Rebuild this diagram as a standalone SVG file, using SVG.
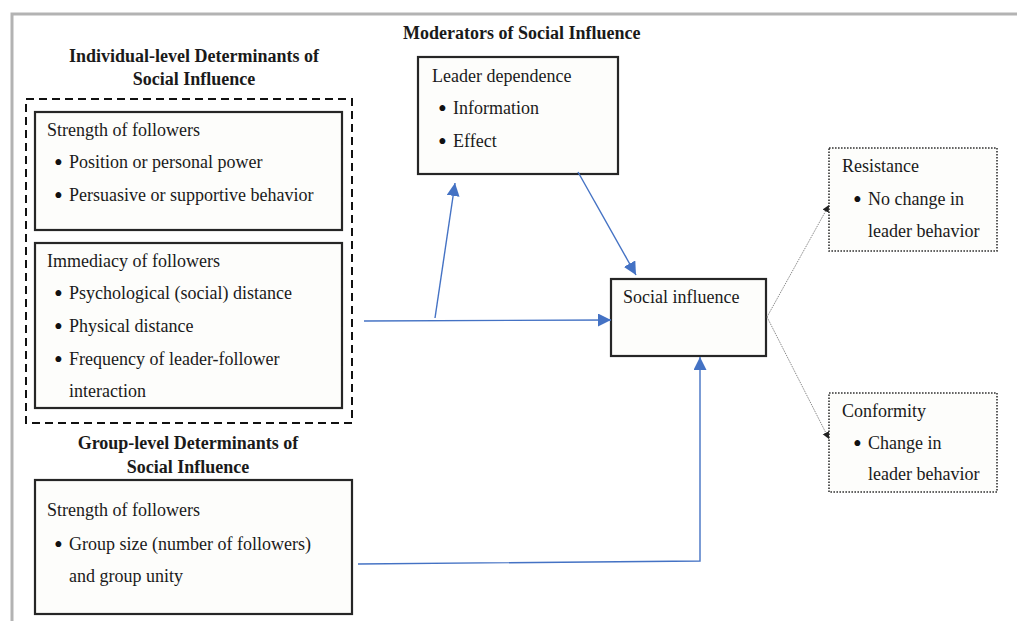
<svg xmlns="http://www.w3.org/2000/svg" width="1017" height="621" viewBox="0 0 1017 621">
  <style>
    .t { font-family: "Liberation Serif", "Times New Roman", serif; font-size: 18px; fill: #1a1a1a; }
    .b { font-family: "Liberation Serif", "Times New Roman", serif; font-size: 25px; fill: #111; }
    .h { font-family: "Liberation Serif", "Times New Roman", serif; font-size: 18px; font-weight: bold; fill: #1a1a1a; }
    .box { fill: #fdfdfb; stroke: #262626; stroke-width: 2.2; }
    .dash { fill: none; stroke: #111; stroke-width: 2; stroke-dasharray: 8 5; }
    .dot { fill: #fdfdfb; stroke: #333; stroke-width: 1.6; stroke-dasharray: 1.6 1.4; }
    .blue { fill: none; stroke: #4472c4; stroke-width: 1.4; }
    .grey { fill: none; stroke: #8a8a8a; stroke-width: 1; stroke-dasharray: 1.5 1; }
    .frame { fill: none; stroke: #b3b3b3; stroke-width: 3; }
  </style>
  <defs>
    <marker id="ab" markerUnits="userSpaceOnUse" markerWidth="14" markerHeight="13" refX="13" refY="6.5" orient="auto">
      <path d="M0,0 L13,6.5 L0,13 z" fill="#4472c4"/>
    </marker>
    <marker id="ak" markerUnits="userSpaceOnUse" markerWidth="8" markerHeight="8" refX="7" refY="4" orient="auto">
      <path d="M0,0.5 L7,4 L0,7.5 z" fill="#222"/>
    </marker>
  </defs>

  <rect width="1017" height="621" fill="#ffffff"/>
  <!-- page frame -->
  <path class="frame" d="M12,621 L12,14 L1017,14"/>

  <!-- section headings -->
  <g id="heading-individual">
    <text class="h" x="194" y="62" text-anchor="middle">Individual-level Determinants of</text>
    <text class="h" x="194" y="85" text-anchor="middle">Social Influence</text>
  </g>
  <g id="heading-group">
    <text class="h" x="188" y="449" text-anchor="middle">Group-level Determinants of</text>
    <text class="h" x="188" y="473" text-anchor="middle">Social Influence</text>
  </g>
  <g id="heading-moderators">
    <text class="h" x="403" y="39">Moderators of Social Influence</text>
  </g>

  <!-- individual-level container -->
  <g id="individual-level">
    <rect class="dash" x="26" y="99" width="326" height="324"/>
  </g>

  <g id="strength-individual">
    <rect class="box" x="35" y="112" width="307" height="118"/>
    <text class="t" x="47" y="136">Strength of followers</text>
    <text class="b" x="54" y="171">•</text>
    <text class="t" x="69" y="168">Position or personal power</text>
    <text class="b" x="54" y="204">•</text>
    <text class="t" x="69" y="201">Persuasive or supportive behavior</text>
  </g>

  <g id="immediacy">
    <rect class="box" x="35" y="243" width="307" height="165"/>
    <text class="t" x="47" y="267">Immediacy of followers</text>
    <text class="b" x="54" y="302">•</text>
    <text class="t" x="69" y="299">Psychological (social) distance</text>
    <text class="b" x="54" y="335">•</text>
    <text class="t" x="69" y="332">Physical distance</text>
    <text class="b" x="54" y="368">•</text>
    <text class="t" x="69" y="365">Frequency of leader-follower</text>
    <text class="t" x="69" y="397">interaction</text>
  </g>

  <g id="strength-group">
    <rect class="box" x="35" y="480" width="317" height="134"/>
    <text class="t" x="47" y="516">Strength of followers</text>
    <text class="b" x="54" y="553">•</text>
    <text class="t" x="69" y="550">Group size (number of followers)</text>
    <text class="t" x="69" y="582">and group unity</text>
  </g>

  <g id="leader-dependence">
    <rect class="box" x="418" y="57" width="200" height="117"/>
    <text class="t" x="432" y="82">Leader dependence</text>
    <text class="b" x="438" y="117">•</text>
    <text class="t" x="453" y="114">Information</text>
    <text class="b" x="438" y="150">•</text>
    <text class="t" x="453" y="147">Effect</text>
  </g>

  <g id="social-influence">
    <rect class="box" x="611" y="279" width="155" height="77" stroke-width="2.6"/>
    <text class="t" x="623" y="303">Social influence</text>
  </g>

  <g id="resistance">
    <rect class="dot" x="829" y="148" width="168" height="103"/>
    <text class="t" x="842" y="172">Resistance</text>
    <text class="b" x="853" y="208">•</text>
    <text class="t" x="868" y="205">No change in</text>
    <text class="t" x="868" y="237">leader behavior</text>
  </g>

  <g id="conformity">
    <rect class="dot" x="829" y="393" width="168" height="99"/>
    <text class="t" x="842" y="417">Conformity</text>
    <text class="b" x="853" y="452">•</text>
    <text class="t" x="868" y="449">Change in</text>
    <text class="t" x="868" y="480">leader behavior</text>
  </g>

  <!-- connectors -->
  <g id="connectors">
    <path class="blue" d="M364,321 L611,320" marker-end="url(#ab)"/>
    <path class="blue" d="M435,318 L455,183" marker-end="url(#ab)"/>
    <path class="blue" d="M578,172 L636,275" marker-end="url(#ab)"/>
    <path class="blue" d="M358,564 L700,561 L700,357" marker-end="url(#ab)"/>
    <path class="grey" d="M767,317 L829,205" marker-end="url(#ak)"/>
    <path class="grey" d="M767,317 L829,439" marker-end="url(#ak)"/>
  </g>
</svg>
